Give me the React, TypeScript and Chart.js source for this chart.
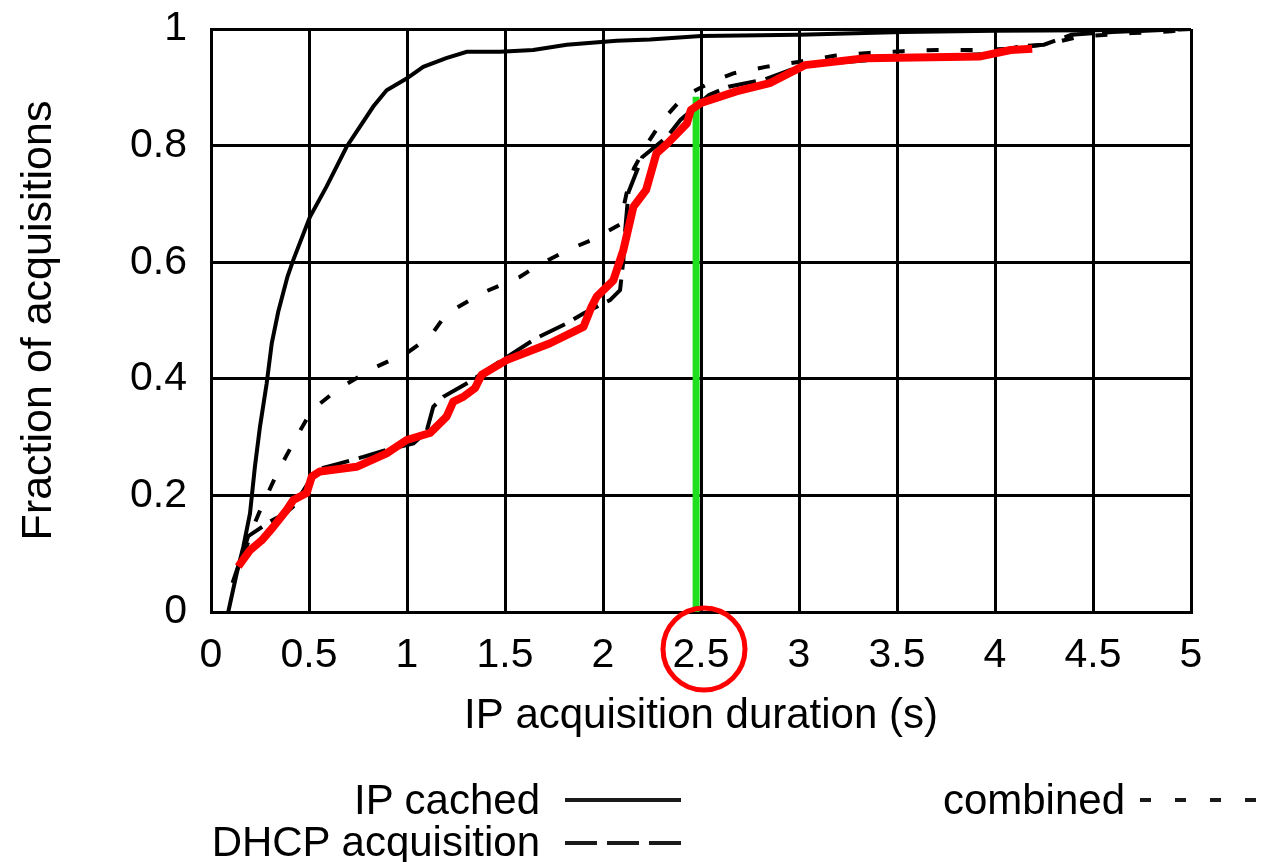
import React, { useEffect, useRef } from "react";
import { Chart, registerables } from "chart.js";

Chart.register(...registerables);

// ---------- data ----------
const ipCachedX = [0.088, 0.131, 0.165, 0.199, 0.224, 0.25, 0.284, 0.31, 0.343, 0.39, 0.42, 0.505, 0.59, 0.692, 0.828, 0.896, 0.998, 1.083, 1.2, 1.305, 1.474, 1.644, 1.815, 2.07, 2.24, 2.5, 3.0, 3.53, 4.0, 4.5, 5.0];
const ipCachedY = [0.0, 0.066, 0.112, 0.169, 0.249, 0.318, 0.392, 0.461, 0.515, 0.575, 0.604, 0.678, 0.73, 0.798, 0.867, 0.895, 0.915, 0.935, 0.95, 0.961, 0.961, 0.964, 0.973, 0.98, 0.982, 0.988, 0.99, 0.995, 0.997, 0.998, 1.0];

const dhcpX = [0.11, 0.19, 0.3, 0.378, 0.42, 0.497, 0.55, 0.658, 0.777, 0.896, 1.033, 1.1, 1.134, 1.185, 1.321, 1.406, 1.661, 1.815, 1.9, 2.036, 2.087, 2.104, 2.112, 2.13, 2.2, 2.327, 2.395, 2.541, 2.64, 2.82, 3.0, 3.1, 3.5, 4.0, 4.12, 4.25, 4.39, 4.6, 5.0];
const dhcpY = [0.05, 0.13, 0.155, 0.169, 0.181, 0.222, 0.245, 0.255, 0.266, 0.278, 0.289, 0.31, 0.352, 0.369, 0.395, 0.415, 0.47, 0.495, 0.512, 0.535, 0.552, 0.604, 0.65, 0.72, 0.78, 0.815, 0.844, 0.887, 0.901, 0.913, 0.935, 0.94, 0.95, 0.958, 0.97, 0.973, 0.99, 0.995, 1.0];

const combinedX = [0.17, 0.208, 0.259, 0.318, 0.378, 0.446, 0.514, 0.65, 0.828, 1.007, 1.117, 1.202, 1.389, 1.577, 1.67, 1.82, 1.942, 2.087, 2.12, 2.158, 2.227, 2.305, 2.412, 2.558, 2.665, 2.83, 3.005, 3.18, 3.355, 3.53, 3.705, 3.89, 4.07, 4.27, 4.43, 4.7, 4.9, 5.0];
const combinedY = [0.1, 0.14, 0.181, 0.224, 0.264, 0.306, 0.346, 0.383, 0.418, 0.446, 0.472, 0.512, 0.548, 0.575, 0.595, 0.621, 0.638, 0.665, 0.718, 0.761, 0.804, 0.844, 0.884, 0.91, 0.924, 0.935, 0.944, 0.954, 0.959, 0.962, 0.964, 0.964, 0.966, 0.974, 0.987, 0.993, 0.996, 1.0];

const redTraceX = [0.139, 0.199, 0.259, 0.318, 0.386, 0.42, 0.488, 0.514, 0.556, 0.743, 0.896, 0.998, 1.117, 1.202, 1.236, 1.287, 1.347, 1.381, 1.508, 1.73, 1.9, 1.942, 1.968, 2.053, 2.104, 2.155, 2.22, 2.273, 2.33, 2.428, 2.448, 2.5, 2.68, 2.85, 3.03, 3.34, 3.925, 4.08, 4.19];
const redTraceY = [0.078, 0.106, 0.123, 0.146, 0.175, 0.192, 0.204, 0.232, 0.241, 0.249, 0.272, 0.295, 0.307, 0.335, 0.361, 0.369, 0.384, 0.407, 0.432, 0.461, 0.489, 0.524, 0.541, 0.569, 0.621, 0.695, 0.724, 0.787, 0.804, 0.838, 0.861, 0.873, 0.893, 0.907, 0.938, 0.95, 0.953, 0.964, 0.966];

const markerX = [2.475, 2.475];
const markerY = [0, 0.884];
const highlightTick = 2.5;

const xTickValues = [0, 0.5, 1, 1.5, 2, 2.5, 3, 3.5, 4, 4.5, 5];
const xTickLabels = ["0", "0.5", "1", "1.5", "2", "2.5", "3", "3.5", "4", "4.5", "5"];
const yTickValues = [0, 0.2, 0.4, 0.6, 0.8, 1];
const yTickLabels = ["0", "0.2", "0.4", "0.6", "0.8", "1"];

const xTitle = "IP acquisition duration (s)";
const yTitle = "Fraction of acquisitions";
const seriesNames = ["IP cached", "DHCP acquisition", "combined"];

const FONT = "'Liberation Sans', Arial, Helvetica, sans-serif";

function pts(xs: number[], ys: number[]) {
  return xs.map((x, i) => ({ x, y: ys[i] }));
}

const circlePlugin = {
  id: "circleMark",
  afterDraw(chart: any) {
    const ctx = chart.ctx;
    const x = chart.scales.x.getPixelForValue(highlightTick) + 3;
    const y = chart.chartArea.bottom + 37;
    ctx.save();
    ctx.beginPath();
    ctx.arc(x, y, 41, 0, Math.PI * 2);
    ctx.strokeStyle = "#ff0000";
    ctx.lineWidth = 5;
    ctx.stroke();
    ctx.restore();
  },
};

export default function App() {
  const ref = useRef<HTMLCanvasElement | null>(null);

  useEffect(() => {
    if (!ref.current) return;
    const chart = new Chart(ref.current, {
      type: "line",
      data: {
        datasets: [
          {
            label: "trace",
            data: pts(redTraceX, redTraceY),
            borderColor: "#ff0000",
            borderWidth: 8,
            borderJoinStyle: "round",
            pointRadius: 0,
            fill: false,
          },
          {
            label: "marker",
            data: pts(markerX, markerY),
            borderColor: "#1fe01f",
            borderWidth: 7,
            pointRadius: 0,
            fill: false,
          },
          {
            label: seriesNames[2],
            data: pts(combinedX, combinedY),
            borderColor: "#000",
            borderWidth: 4,
            borderDash: [12, 22],
            pointRadius: 0,
            fill: false,
          },
          {
            label: seriesNames[1],
            data: pts(dhcpX, dhcpY),
            borderColor: "#000",
            borderWidth: 4,
            borderDash: [28, 10],
            pointRadius: 0,
            fill: false,
          },
          {
            label: seriesNames[0],
            data: pts(ipCachedX, ipCachedY),
            borderColor: "#000",
            borderWidth: 4,
            pointRadius: 0,
            fill: false,
          },
        ],
      },
      options: {
        responsive: false,
        animation: false,
        events: [],
        layout: { padding: { top: 29, right: 79, left: 0, bottom: 0 } },
        plugins: { legend: { display: false }, tooltip: { enabled: false } },
        elements: { line: { tension: 0 }, point: { radius: 0 } },
        scales: {
          x: {
            type: "linear",
            min: 0,
            max: 5,
            afterBuildTicks: (s: any) => {
              s.ticks = xTickValues.map((v) => ({ value: v }));
            },
            afterFit: (s: any) => {
              s.height = 250;
              s.paddingLeft = 0;
              s.paddingRight = 0;
            },
            ticks: {
              autoSkip: false,
              maxRotation: 0,
              padding: 19,
              color: "#000",
              font: { family: FONT, size: 41 },
              callback: (_v: any, i: number) => xTickLabels[i],
            },
            grid: { color: "#000", lineWidth: 3, drawTicks: false },
            border: { color: "#000", width: 3 },
            title: {
              display: true,
              text: xTitle,
              color: "#000",
              font: { family: FONT, size: 42 },
              padding: { top: 0, bottom: 120 },
            },
          },
          y: {
            type: "linear",
            min: 0,
            max: 1,
            afterBuildTicks: (s: any) => {
              s.ticks = yTickValues.map((v) => ({ value: v }));
            },
            afterFit: (s: any) => {
              s.width = 211;
              s.paddingTop = 0;
              s.paddingBottom = 0;
            },
            ticks: {
              autoSkip: false,
              padding: 24,
              color: "#000",
              font: { family: FONT, size: 41 },
              callback: (_v: any, i: number) => yTickLabels[i],
            },
            grid: { color: "#000", lineWidth: 3, drawTicks: false },
            border: { color: "#000", width: 3 },
            title: {
              display: true,
              text: yTitle,
              color: "#000",
              font: { family: FONT, size: 43 },
              padding: { top: 13, bottom: 0 },
            },
          },
        },
      },
      plugins: [circlePlugin],
    } as any);
    return () => chart.destroy();
  }, []);

  const textStyle: React.CSSProperties = {
    position: "absolute",
    fontFamily: FONT,
    fontSize: 42,
    lineHeight: "42px",
    color: "#000",
    whiteSpace: "nowrap",
  };

  return (
    <div
      style={{
        position: "absolute",
        left: 0,
        top: 0,
        width: 1270,
        height: 862,
        overflow: "hidden",
        background: "#fff",
      }}
    >
      <canvas
        ref={ref}
        width={1270}
        height={862}
        style={{ position: "absolute", left: 0, top: 0, width: 1270, height: 862 }}
      />
      <div style={{ ...textStyle, right: 730, top: 779, textAlign: "right" }}>{seriesNames[0]}</div>
      <div style={{ ...textStyle, right: 730, top: 821, textAlign: "right" }}>{seriesNames[1]}</div>
      <div style={{ ...textStyle, right: 145, top: 779, textAlign: "right" }}>{seriesNames[2]}</div>
      <svg
        width={1270}
        height={862}
        style={{ position: "absolute", left: 0, top: 0, pointerEvents: "none" }}
      >
        <line x1={565} y1={800} x2={681} y2={800} stroke="#1a1a1a" strokeWidth={4} />
        <line x1={565} y1={843} x2={681} y2={843} stroke="#1a1a1a" strokeWidth={4} strokeDasharray="32 10" />
        <line x1={1140} y1={800} x2={1270} y2={800} stroke="#1a1a1a" strokeWidth={4} strokeDasharray="11 24" />
      </svg>
    </div>
  );
}
